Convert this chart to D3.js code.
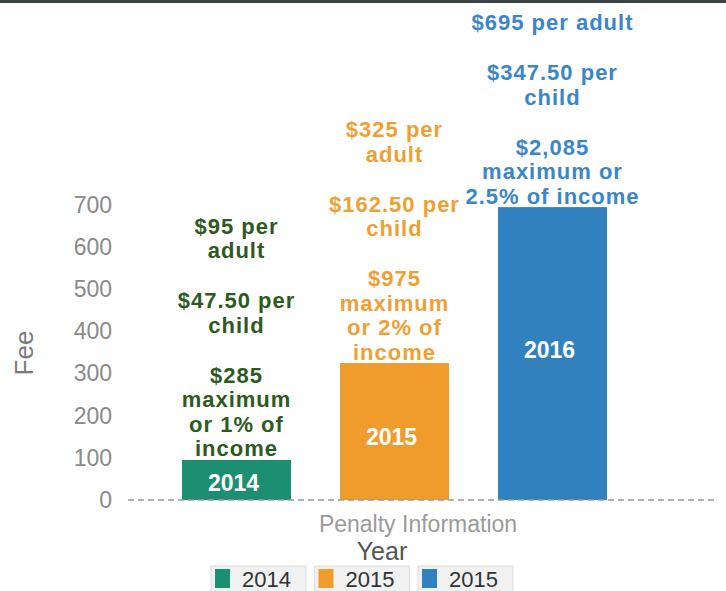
<!DOCTYPE html>
<html>
<head>
<meta charset="utf-8">
<script src="https://cdn.jsdelivr.net/npm/d3@7"></script>
<style>
  body { margin: 0; background: #fff; }
  svg { display: block; font-family: "Liberation Sans", Arial, sans-serif; }
</style>
</head>
<body>
<div id="chart"></div>
<script>
// data
var years = ["2014", "2015", "2016"];
var fees = [95, 325, 695];
var legendLabels = ["2014", "2015", "2015"];
var yTicks = [0, 100, 200, 300, 400, 500, 600, 700];
// notes above each bar, paragraphs of lines
var notes2014 = [["$95 per", "adult"], ["$47.50 per", "child"], ["$285", "maximum", "or 1% of", "income"]];
var notes2015 = [["$325 per", "adult"], ["$162.50 per", "child"], ["$975", "maximum", "or 2% of", "income"]];
var notes2016 = [["$695 per adult"], ["$347.50 per", "child"], ["$2,085", "maximum or", "2.5% of income"]];
var notes = [notes2014, notes2015, notes2016];

var barColors = ["#1c8f72", "#f09c2d", "#3181bf"];
var noteColors = ["#2d5a1d", "#f0a033", "#3a86c8"];

var W = 726, H = 591;

var svg = d3.select("#chart").append("svg")
    .attr("width", W)
    .attr("height", H);

// dark strip at top
svg.append("rect")
    .attr("x", 0).attr("y", 0)
    .attr("width", W).attr("height", 3)
    .attr("fill", "#3b4343");

var y = d3.scaleLinear()
    .domain([0, 700])
    .range([500, 205]);

var x = d3.scaleBand()
    .domain(years)
    .range([157.5, 631.5])
    .paddingInner(0.31)
    .paddingOuter(0.155);

// y axis labels (no line)
var yAxis = d3.axisLeft(y)
    .tickValues(yTicks)
    .tickSize(0)
    .tickPadding(0);

var gy = svg.append("g")
    .attr("class", "y-axis")
    .attr("transform", "translate(112,0)")
    .call(yAxis);
gy.select(".domain").remove();
gy.selectAll("text")
    .attr("fill", "#8a8a8a")
    .style("font-size", "23px")
    .style("font-family", "Liberation Sans, Arial, sans-serif");

svg.append("text")
    .attr("transform", "translate(33,353) rotate(-90)")
    .attr("text-anchor", "middle")
    .attr("fill", "#7a7a7a")
    .style("font-size", "26px")
    .text("Fee");

// bars
svg.selectAll(".bar")
    .data(years)
    .enter()
    .append("rect")
    .attr("class", "bar")
    .attr("x", function(d) { return x(d); })
    .attr("y", function(d, i) { return y(fees[i]); })
    .attr("width", x.bandwidth())
    .attr("height", function(d, i) { return y(0) - y(fees[i]); })
    .attr("fill", function(d, i) { return barColors[i]; });

// baseline
svg.append("line")
    .attr("x1", 128).attr("x2", 714)
    .attr("y1", y(0)).attr("y2", y(0))
    .attr("stroke", "#9a9a9a")
    .attr("stroke-width", 1.5)
    .attr("stroke-dasharray", "6,4");

// year labels inside bars
var labelOffsets = [-17, -63, -150];
svg.selectAll(".bar-label")
    .data(years)
    .enter()
    .append("text")
    .attr("class", "bar-label")
    .attr("x", function(d) { return x(d) + x.bandwidth() / 2 - 3; })
    .attr("y", function(d, i) { return y(0) + labelOffsets[i]; })
    .attr("text-anchor", "middle")
    .attr("dominant-baseline", "central")
    .attr("fill", "#fff")
    .style("font-size", "23px")
    .style("font-weight", "bold")
    .text(function(d) { return d; });

// notes, stacked upward from bar top
var lineH = 24.5, paraGap = 25.5;
notes.forEach(function(paras, i) {
  var cx = x(years[i]) + x.bandwidth() / 2;
  var cy = y(fees[i]) - 11;
  var lines = [];
  for (var p = paras.length - 1; p >= 0; p--) {
    for (var l = paras[p].length - 1; l >= 0; l--) {
      lines.push({ text: paras[p][l], y: cy });
      cy -= lineH;
    }
    cy -= paraGap;
  }
  svg.selectAll(".note-" + i)
      .data(lines)
      .enter()
      .append("text")
      .attr("class", "note-" + i)
      .attr("x", cx)
      .attr("y", function(d) { return d.y; })
      .attr("text-anchor", "middle")
      .attr("dominant-baseline", "central")
      .attr("fill", noteColors[i])
      .style("font-size", "22px")
      .style("font-weight", "bold")
      .style("letter-spacing", "1px")
      .text(function(d) { return d.text; });
});

// axis titles
svg.append("text")
    .attr("x", 418).attr("y", 524)
    .attr("text-anchor", "middle")
    .attr("dominant-baseline", "central")
    .attr("fill", "#9a9a9a")
    .style("font-size", "23px")
    .text("Penalty Information");

svg.append("text")
    .attr("x", 382).attr("y", 551)
    .attr("text-anchor", "middle")
    .attr("dominant-baseline", "central")
    .attr("fill", "#555")
    .style("font-size", "25px")
    .text("Year");

// legend
var legend = svg.selectAll(".legend")
    .data(legendLabels)
    .enter()
    .append("g")
    .attr("class", "legend")
    .attr("transform", function(d, i) { return "translate(" + (211 + i * 103.5) + ",566)"; });

legend.append("rect")
    .attr("width", 95).attr("height", 28)
    .attr("fill", "#f1f1f1")
    .attr("stroke", "#dddddd");

legend.append("rect")
    .attr("x", 4).attr("y", 3)
    .attr("width", 15).attr("height", 19)
    .attr("fill", function(d, i) { return barColors[i]; });

legend.append("text")
    .attr("x", 31).attr("y", 13)
    .attr("dominant-baseline", "central")
    .attr("fill", "#333")
    .style("font-size", "22px")
    .text(function(d) { return d; });
</script>
</body>
</html>
